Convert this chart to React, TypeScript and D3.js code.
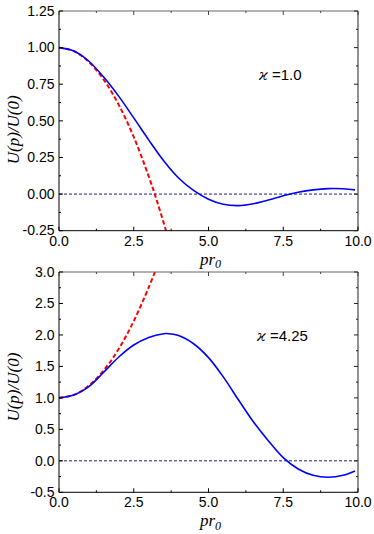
import React from "react";
import * as d3 from "d3";

// Panel 1: kappa = 1.0
const p1X = [0, 0.5, 1.0, 1.5, 2.0, 2.5, 3.0, 3.5, 4.0, 4.5, 5.0, 5.5, 6.0, 6.5, 7.0, 7.5, 8.0, 8.5, 9.0, 9.5, 9.9];
const p1Blue = [1.0, 0.977, 0.907, 0.797, 0.667, 0.52, 0.37, 0.228, 0.11, 0.025, -0.035, -0.07, -0.079, -0.066, -0.041, -0.011, 0.013, 0.029, 0.037, 0.036, 0.029];
const p1RedX = [0, 0.5, 1.0, 1.5, 2.0, 2.5, 3.0, 3.3, 3.58];
const p1Red = [1.0, 0.976, 0.902, 0.78, 0.609, 0.39, 0.121, -0.063, -0.25];

// Panel 2: kappa = 4.25
const p2X = [0, 0.5, 1.0, 1.5, 2.0, 2.5, 3.0, 3.5, 3.6, 4.0, 4.5, 5.0, 5.5, 6.0, 6.5, 7.0, 7.5, 8.0, 8.5, 9.0, 9.5, 9.9];
const p2Blue = [1.0, 1.045, 1.18, 1.41, 1.65, 1.84, 1.96, 2.02, 2.022, 1.99, 1.86, 1.64, 1.33, 0.97, 0.62, 0.32, 0.05, -0.13, -0.23, -0.26, -0.23, -0.16];
const p2RedX = [0, 0.5, 1.0, 1.5, 2.0, 2.5, 3.0, 3.21];
const p2Red = [1.0, 1.049, 1.195, 1.44, 1.78, 2.22, 2.755, 3.0];

const xTicks = [0, 2.5, 5.0, 7.5, 10.0];
const xTickLabels = ["0.0", "2.5", "5.0", "7.5", "10.0"];
const y1Ticks = [-0.25, 0, 0.25, 0.5, 0.75, 1.0, 1.25];
const y1TickLabels = ["-0.25", "0.00", "0.25", "0.50", "0.75", "1.00", "1.25"];
const y2Ticks = [-0.5, 0, 0.5, 1.0, 1.5, 2.0, 2.5, 3.0];
const y2TickLabels = ["-0.5", "0.0", "0.5", "1.0", "1.5", "2.0", "2.5", "3.0"];

const labelFont = "'Liberation Sans', Arial, sans-serif";
const serif = "'Liberation Serif', 'Times New Roman', serif";

type PanelProps = {
  top: number;
  bottom: number;
  yDomain: [number, number];
  yTicks: number[];
  yLabels: string[];
  yMinorStep: number;
  blueX: number[];
  blueY: number[];
  redX: number[];
  redY: number[];
  kappa: string;
  annX: number;
  annY: number;
  xTitleOffset: number;
  yTitleShift: number;
};

function Panel(props: PanelProps) {
  const { top, bottom, yDomain, yTicks, yLabels, yMinorStep, blueX, blueY, redX, redY, kappa, annX, annY, xTitleOffset, yTitleShift } = props;
  const left = 59;
  const right = 358;
  const x = d3.scaleLinear().domain([0, 10]).range([left, right]);
  const y = d3.scaleLinear().domain(yDomain).range([bottom, top]);
  const line = d3
    .line<[number, number]>()
    .x((d) => x(d[0]))
    .y((d) => y(d[1]))
    .curve(d3.curveCatmullRom.alpha(0.5));
  const blue = line(blueX.map((v, i) => [v, blueY[i]] as [number, number])) || "";
  const red = line(redX.map((v, i) => [v, redY[i]] as [number, number])) || "";

  const xMinor = d3.range(0, 10.001, 1.25).filter((v) => !xTicks.some((t) => Math.abs(t - v) < 1e-6));
  const yMinor = d3
    .range(yDomain[0], yDomain[1] + 1e-6, yMinorStep)
    .filter((v) => !yTicks.some((t) => Math.abs(t - v) < 1e-6));
  const major = 4;
  const minor = 2;

  return (
    <g>
      {/* zero reference line */}
      <line x1={x(0)} x2={x(10)} y1={y(0)} y2={y(0)} stroke="#1a1a8c" strokeWidth={1} strokeDasharray="3,2" />
      <path d={red} fill="none" stroke="#ff0000" strokeWidth={2} strokeDasharray="4.5,2.5" />
      <path d={blue} fill="none" stroke="#0000ff" strokeWidth={1.6} />
      {/* frame */}
      <line x1={left} x2={right} y1={top} y2={top} stroke="#666" strokeWidth={1} />
      <line x1={right} x2={right} y1={top} y2={bottom} stroke="#222" strokeWidth={1} />
      <line x1={left} x2={left} y1={top} y2={bottom} stroke="#000" strokeWidth={1} />
      <line x1={left} x2={right} y1={bottom} y2={bottom} stroke="#000" strokeWidth={1} />
      {/* x ticks */}
      {xTicks.map((t, i) => (
        <g key={"xt" + i}>
          <line x1={x(t)} x2={x(t)} y1={bottom} y2={bottom - major} stroke="#000" />
          <line x1={x(t)} x2={x(t)} y1={top} y2={top + major} stroke="#444" />
          <text x={x(t)} y={bottom + 15} textAnchor="middle" fontFamily={labelFont} fontSize={14} fill="#000">
            {xTickLabels[i]}
          </text>
        </g>
      ))}
      {xMinor.map((t, i) => (
        <g key={"xm" + i}>
          <line x1={x(t)} x2={x(t)} y1={bottom} y2={bottom - minor} stroke="#000" />
          <line x1={x(t)} x2={x(t)} y1={top} y2={top + minor} stroke="#444" />
        </g>
      ))}
      {/* y ticks */}
      {yTicks.map((t, i) => (
        <g key={"yt" + i}>
          <line x1={left} x2={left + major} y1={y(t)} y2={y(t)} stroke="#000" />
          <line x1={right} x2={right - major} y1={y(t)} y2={y(t)} stroke="#222" />
          <text x={54.5} y={y(t)} dy="0.34em" textAnchor="end" fontFamily={labelFont} fontSize={14} fill="#000">
            {yLabels[i]}
          </text>
        </g>
      ))}
      {yMinor.map((t, i) => (
        <g key={"ym" + i}>
          <line x1={left} x2={left + minor} y1={y(t)} y2={y(t)} stroke="#000" />
          <line x1={right} x2={right - minor} y1={y(t)} y2={y(t)} stroke="#222" />
        </g>
      ))}
      {/* x title */}
      <text x={(left + right) / 2 + 2} y={bottom + xTitleOffset} textAnchor="middle" fontFamily={serif} fontStyle="italic" fontSize={17} fill="#000">
        pr
        <tspan fontSize={12} dy={3.5}>0</tspan>
      </text>
      {/* y title */}
      <text
        transform={`translate(19,${(top + bottom) / 2 + yTitleShift}) rotate(-90)`}
        textAnchor="middle"
        fontFamily={serif}
        fontStyle="italic"
        fontSize={17}
        fill="#000"
      >
        U(p)/U(0)
      </text>
      {/* annotation */}
      <text x={annX} y={annY} fontFamily={labelFont} fontSize={15} fill="#000">
        <tspan fontFamily="'DejaVu Serif', serif" fontStyle="italic" fontSize={14}>ϰ</tspan>
        <tspan> =</tspan>
        <tspan>{kappa}</tspan>
      </text>
    </g>
  );
}

export default function App() {
  return (
    <svg width={374} height={534} style={{ position: "absolute", left: 0, top: 0, background: "#fff" }}>
      <rect width={374} height={534} fill="#fff" />
      <Panel
        top={11}
        bottom={230.7}
        yDomain={[-0.25, 1.25]}
        yTicks={y1Ticks}
        yLabels={y1TickLabels}
        yMinorStep={0.125}
        blueX={p1X}
        blueY={p1Blue}
        redX={p1RedX}
        redY={p1Red}
        kappa="1.0"
        annX={259}
        annY={80}
        xTitleOffset={34}
        yTitleShift={9}
      />
      <Panel
        top={272}
        bottom={492.3}
        yDomain={[-0.5, 3.0]}
        yTicks={y2Ticks}
        yLabels={y2TickLabels}
        yMinorStep={0.25}
        blueX={p2X}
        blueY={p2Blue}
        redX={p2RedX}
        redY={p2Red}
        kappa="4.25"
        annX={257}
        annY={341}
        xTitleOffset={34}
        yTitleShift={5}
      />
    </svg>
  );
}
